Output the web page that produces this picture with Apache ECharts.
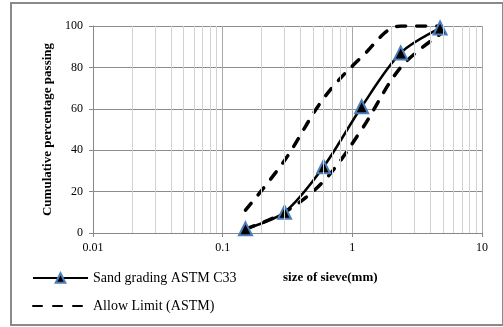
<!DOCTYPE html>
<html>
<head>
<meta charset="utf-8">
<script src="https://cdn.jsdelivr.net/npm/echarts@6/dist/echarts.min.js"></script>
<style>
  html, body { margin: 0; padding: 0; background: #fff; }
  #main { width: 503px; height: 327px; }
</style>
</head>
<body>
<div id="main"></div>
<script>
// sieve sizes (mm) and % passing
var sieveSizes = [0.15, 0.3, 0.6, 1.18, 2.36, 4.75];
var sandPassing = [2, 10, 32, 61, 87, 99];
var upperLimit = [11, 35, 65, 85, 100, 100];
var lowerLimit = [2, 10, 25, 50, 80, 96];
var xTickLabels = ['0.01', '0.1', '1', '10'];
var yTickLabels = ['0', '20', '40', '60', '80', '100'];

var serif = '"Liberation Serif", "Times New Roman", serif';

function pairs(ys) {
    return sieveSizes.map(function (x, i) { return [x, ys[i]]; });
}

// light vertical lines between decades (2..9 of each decade)
var minorLines = [];
[0.01, 0.1, 1].forEach(function (d) {
    for (var k = 2; k <= 9; k++) {
        minorLines.push({ xAxis: +(d * k).toPrecision(3) });
    }
});

var dashStyle = { color: '#000', width: 3.5, type: [9, 11], cap: 'round' };

var myChart = echarts.init(document.getElementById('main'));

myChart.setOption({
    animation: false,
    backgroundColor: '#fff',
    grid: {
        left: 93,
        right: 21,
        top: 26,
        bottom: 94,
        containLabel: false
    },
    legend: {
        orient: 'vertical',
        left: 27,
        top: 266,
        itemWidth: 55,
        itemHeight: 12,
        itemGap: 14,
        selectedMode: false,
        data: [
            { name: 'Sand grading ASTM C33' },
            // dashed line only, no marker
            { name: 'Allow Limit (ASTM)', itemStyle: { opacity: 0 } }
        ],
        textStyle: {
            fontFamily: serif,
            fontSize: 14,
            color: '#000'
        }
    },
    xAxis: {
        type: 'log',
        logBase: 10,
        min: 0.01,
        max: 10,
        axisLine: { show: true, lineStyle: { color: '#888', width: 1 } },
        axisTick: { show: true, length: 4, lineStyle: { color: '#888' } },
        axisLabel: {
            margin: 9,
            fontFamily: serif,
            fontSize: 12,
            color: '#000',
            formatter: function (v, i) { return xTickLabels[i]; }
        },
        splitLine: { show: true, lineStyle: { color: '#a8a8a8', width: 1 } }
    },
    yAxis: {
        type: 'value',
        min: 0,
        max: 100,
        interval: 20,
        name: 'Cumulative percentage passing',
        nameLocation: 'middle',
        nameGap: 38,
        nameTextStyle: {
            fontFamily: serif,
            fontSize: 13,
            fontWeight: 'bold',
            color: '#000'
        },
        axisLine: { show: true, lineStyle: { color: '#888', width: 1 } },
        axisTick: { show: true, length: 4, lineStyle: { color: '#888' } },
        axisLabel: {
            margin: 10,
            fontFamily: serif,
            fontSize: 12,
            color: '#000',
            formatter: function (v, i) { return yTickLabels[i]; }
        },
        splitLine: { show: true, lineStyle: { color: '#8c8c8c', width: 1 } }
    },
    graphic: [
        {
            type: 'rect',
            shape: { x: 11, y: 3, width: 492, height: 322 },
            style: { fill: 'none', stroke: '#8a8a8a', lineWidth: 2 },
            silent: true,
            z: -1
        },
        {
            type: 'text',
            left: 283,
            top: 271,
            style: {
                text: 'size of sieve(mm)',
                font: 'bold 13px ' + serif,
                fill: '#000'
            }
        }
    ],
    series: [
        {
            // minor grid lines only
            type: 'line',
            data: [],
            silent: true,
            markLine: {
                silent: true,
                symbol: 'none',
                label: { show: false },
                lineStyle: { color: '#d2d2d2', type: 'solid', width: 1 },
                data: minorLines
            },
            z: 1
        },
        {
            name: 'Allow Limit (ASTM)',
            type: 'line',
            data: pairs(upperLimit),
            smooth: 0.35,
            showSymbol: false,
            symbol: 'none',
            lineStyle: dashStyle,
            itemStyle: { color: '#000' },
            z: 3
        },
        {
            name: 'Allow Limit (ASTM)',
            type: 'line',
            data: pairs(lowerLimit),
            smooth: 0.35,
            showSymbol: false,
            symbol: 'none',
            lineStyle: dashStyle,
            itemStyle: { color: '#000' },
            z: 3
        },
        {
            name: 'Sand grading ASTM C33',
            type: 'line',
            data: pairs(sandPassing),
            smooth: 0.3,
            symbol: 'triangle',
            symbolSize: 13,
            lineStyle: { color: '#000', width: 2.5 },
            itemStyle: { color: '#000', borderColor: '#4a7ebb', borderWidth: 2 },
            z: 4
        }
    ]
});
</script>
</body>
</html>
